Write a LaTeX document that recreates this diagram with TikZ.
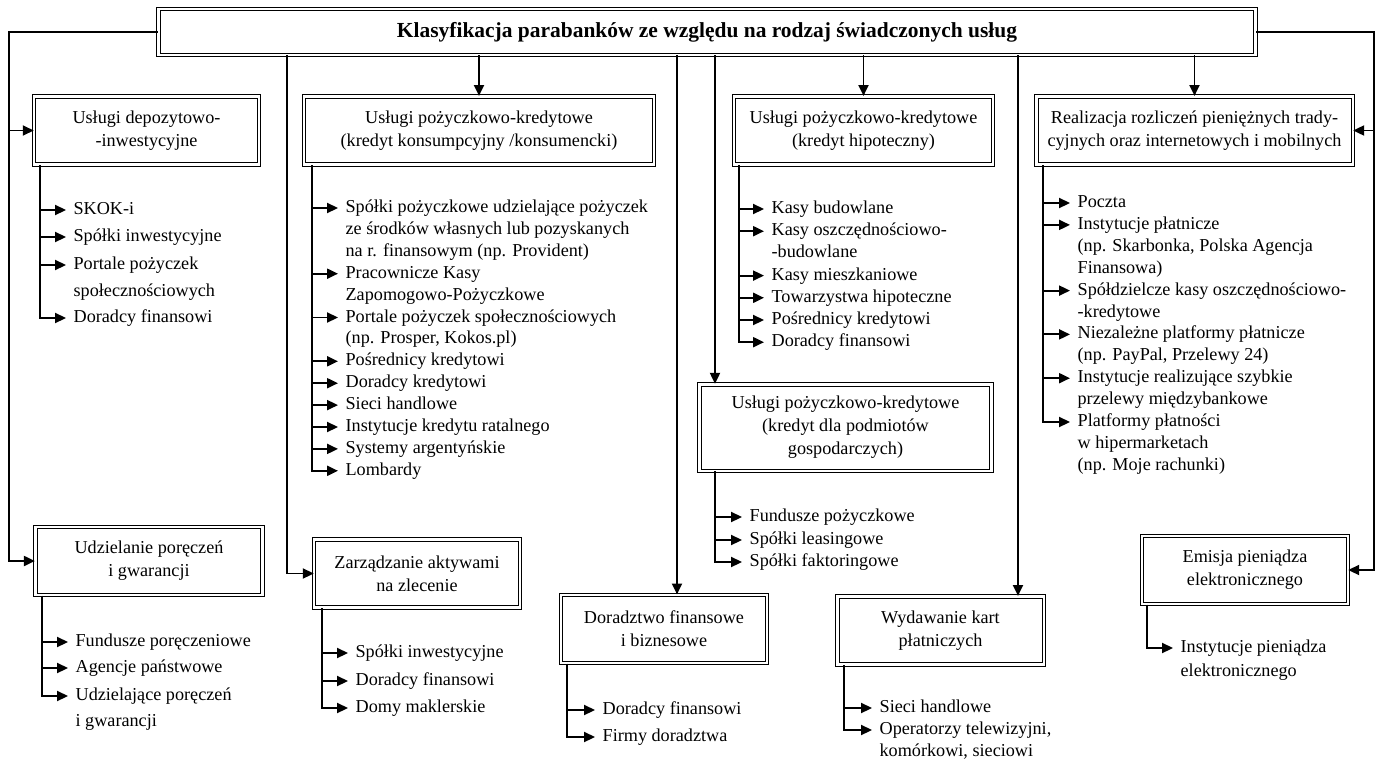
\documentclass[tikz,border=0pt]{standalone}
\usepackage{fontspec}
\setmainfont{Liberation Serif}
\usepackage{tikz}
\usetikzlibrary{shapes, arrows, positioning, arrows.meta}

\begin{document}
\begin{tikzpicture}[x=0.55pt, y=-0.55pt,
    box/.style={draw, double, double distance=1.3pt, line width=0.55pt, align=center,
        inner sep=2pt, minimum height=37.5pt, font=\fontsize{10}{12.6}\selectfont},
    item/.style={anchor=west, inner xsep=4pt, inner ysep=0pt, text height=7pt,
        text depth=2pt, font=\fontsize{10}{12}\selectfont},
    conn/.style={line width=1pt},
    arr/.style={conn, -{Triangle[length=6pt,width=5.5pt]}}]
    \useasboundingbox (0,0) rectangle (1376,761);

    % Cuadro principal
    \node[box, minimum width=603.5pt, minimum height=25pt,
        font=\fontsize{11.8}{14}\selectfont\bfseries] (T) at (707,32)
        {Klasyfikacja parabanków ze względu na rodzaj świadczonych usług};

    % Cuadros de la primera fila
    \node[box, minimum width=123.5pt] (A) at (146.5,130.5) {Usługi depozytowo-\\-inwestycyjne};
    \node[box, minimum width=192.5pt] (B) at (479,130.5) {Usługi pożyczkowo-kredytowe\\(kredyt konsumpcyjny /konsumencki)};
    \node[box, minimum width=142.5pt] (C) at (863.5,130.5) {Usługi pożyczkowo-kredytowe\\(kredyt hipoteczny)};
    \node[box, minimum width=174pt] (D) at (1194.5,130.5) {Realizacja rozliczeń pieniężnych trady-\\cyjnych oraz internetowych i mobilnych};

    % Cuadros de abajo
    \node[box, minimum width=160.5pt, minimum height=47.5pt] (E) at (845.5,427.5) {Usługi pożyczkowo-kredytowe\\(kredyt dla podmiotów\\gospodarczych)};
    \node[box, minimum width=125pt] (F) at (149,561) {Udzielanie poręczeń\\i gwarancji};
    \node[box, minimum width=113pt] (G) at (417,573.5) {Zarządzanie aktywami\\na zlecenie};
    \node[box, minimum width=113pt] (H) at (664,629) {Doradztwo finansowe\\i biznesowe};
    \node[box, minimum width=113.5pt] (I) at (940.5,630.5) {Wydawanie kart\\płatniczych};
    \node[box, minimum width=113pt] (J) at (1245,570) {Emisja pieniądza\\elektronicznego};

    % Lineas verticales
    \coordinate (lft) at (9,0);
    \coordinate (rgt) at (1374,0);
    \coordinate (sG) at (287,0);
    \coordinate (sH) at (677,0);
    \coordinate (sE) at (715,0);
    \coordinate (sI) at (1018,0);
    \coordinate (aS) at (40,0);
    \coordinate (bS) at (312,0);
    \coordinate (cS) at (739,0);
    \coordinate (dS) at (1043,0);
    \coordinate (fS) at (42,0);
    \coordinate (gS) at (322,0);
    \coordinate (hS) at (567,0);
    \coordinate (iS) at (844,0);
    \coordinate (jS) at (1147,0);

    % Flechas desde el cuadro principal
    \draw[arr] (T.west) -| (lft |- F.west) -- (F.west);
    \draw[arr] (lft |- A.west) -- (A.west);
    \draw[arr] (T.east) -| (rgt |- J.east) -- (J.east);
    \draw[arr] (rgt |- D.east) -- (D.east);
    \draw[arr] (T.south -| B.north) -- (B.north);
    \draw[arr] (T.south -| C.north) -- (C.north);
    \draw[arr] (T.south -| D.north) -- (D.north);
    \draw[arr] (T.south -| sG) |- (G.west);
    \draw[arr] (T.south -| sH) -- (H.north -| sH);
    \draw[arr] (T.south -| sE) -- (E.north -| sE);
    \draw[arr] (T.south -| sI) -- (I.north -| sI);

    % Lista A
    \foreach \y/\t [count=\i] in {210/SKOK-i, 237/Spółki inwestycyjne, 265/Portale pożyczek,
        292/społecznościowych, 318/Doradcy finansowi} {
        \node[item] (a\i) at (66,\y) {\t};
    }
    \foreach \i in {1,2,3} \draw[arr] (aS |- a\i.west) -- (a\i.west);
    \draw[arr] (A.south -| aS) |- (a5.west);

    % Lista B
    \foreach \t [count=\i] in {Spółki pożyczkowe udzielające pożyczek,
        ze środków własnych lub pozyskanych, na r. finansowym (np. Provident),
        Pracownicze Kasy, Zapomogowo-Pożyczkowe, Portale pożyczek społecznościowych,
        {(np. Prosper, Kokos.pl)}, Pośrednicy kredytowi, Doradcy kredytowi, Sieci handlowe,
        Instytucje kredytu ratalnego, Systemy argentyńskie, Lombardy} {
        \node[item] (b\i) at (338,208+21.9*\i-21.9) {\t};
    }
    \foreach \i in {1,4,6,8,9,10,11,12} \draw[arr] (bS |- b\i.west) -- (b\i.west);
    \draw[arr] (B.south -| bS) |- (b13.west);

    % Lista C
    \foreach \t [count=\i] in {Kasy budowlane, Kasy oszczędnościowo-, -budowlane,
        Kasy mieszkaniowe, Towarzystwa hipoteczne, Pośrednicy kredytowi, Doradcy finansowi} {
        \node[item] (c\i) at (764,209+22.2*\i-22.2) {\t};
    }
    \foreach \i in {1,2,4,5,6} \draw[arr] (cS |- c\i.west) -- (c\i.west);
    \draw[arr] (C.south -| cS) |- (c7.west);

    % Lista D
    \foreach \t [count=\i] in {Poczta, Instytucje płatnicze, {(np. Skarbonka, Polska Agencja},
        Finansowa), Spółdzielcze kasy oszczędnościowo-, -kredytowe,
        Niezależne platformy płatnicze, {(np. PayPal, Przelewy 24)},
        Instytucje realizujące szybkie, przelewy międzybankowe, Platformy płatności,
        w hipermarketach, (np. Moje rachunki)} {
        \node[item] (d\i) at (1070,203+21.9*\i-21.9) {\t};
    }
    \foreach \i in {1,2,5,7,9} \draw[arr] (dS |- d\i.west) -- (d\i.west);
    \draw[arr] (D.south -| dS) |- (d11.west);

    % Lista E
    \foreach \y/\t [count=\i] in {517/Fundusze pożyczkowe, 540/Spółki leasingowe,
        562/Spółki faktoringowe} {
        \node[item] (e\i) at (742,\y) {\t};
    }
    \foreach \i in {1,2} \draw[arr] (sE |- e\i.west) -- (e\i.west);
    \draw[arr] (E.south -| sE) |- (e3.west);

    % Lista F
    \foreach \y/\t [count=\i] in {642/Fundusze poręczeniowe, 668/Agencje państwowe,
        696/Udzielające poręczeń, 722/i gwarancji} {
        \node[item] (f\i) at (68,\y) {\t};
    }
    \foreach \i in {1,2} \draw[arr] (fS |- f\i.west) -- (f\i.west);
    \draw[arr] (F.south -| fS) |- (f3.west);

    % Lista G
    \foreach \y/\t [count=\i] in {653/Spółki inwestycyjne, 681/Doradcy finansowi,
        708/Domy maklerskie} {
        \node[item] (g\i) at (348,\y) {\t};
    }
    \foreach \i in {1,2} \draw[arr] (gS |- g\i.west) -- (g\i.west);
    \draw[arr] (G.south -| gS) |- (g3.west);

    % Lista H
    \node[item] (h1) at (595,710) {Doradcy finansowi};
    \node[item] (h2) at (595,737) {Firmy doradztwa};
    \draw[arr] (hS |- h1.west) -- (h1.west);
    \draw[arr] (H.south -| hS) |- (h2.west);

    % Lista I
    \node[item] (i1) at (872,708) {Sieci handlowe};
    \node[item] (i2) at (872,730) {Operatorzy telewizyjni,};
    \node[item] (i3) at (872,752) {komórkowi, sieciowi};
    \draw[arr] (iS |- i1.west) -- (i1.west);
    \draw[arr] (I.south -| iS) |- (i2.west);

    % Lista J
    \node[item] (j1) at (1173,648) {Instytucje pieniądza};
    \node[item] (j2) at (1173,672) {elektronicznego};
    \draw[arr] (J.south -| jS) |- (j1.west);
\end{tikzpicture}
\end{document}
